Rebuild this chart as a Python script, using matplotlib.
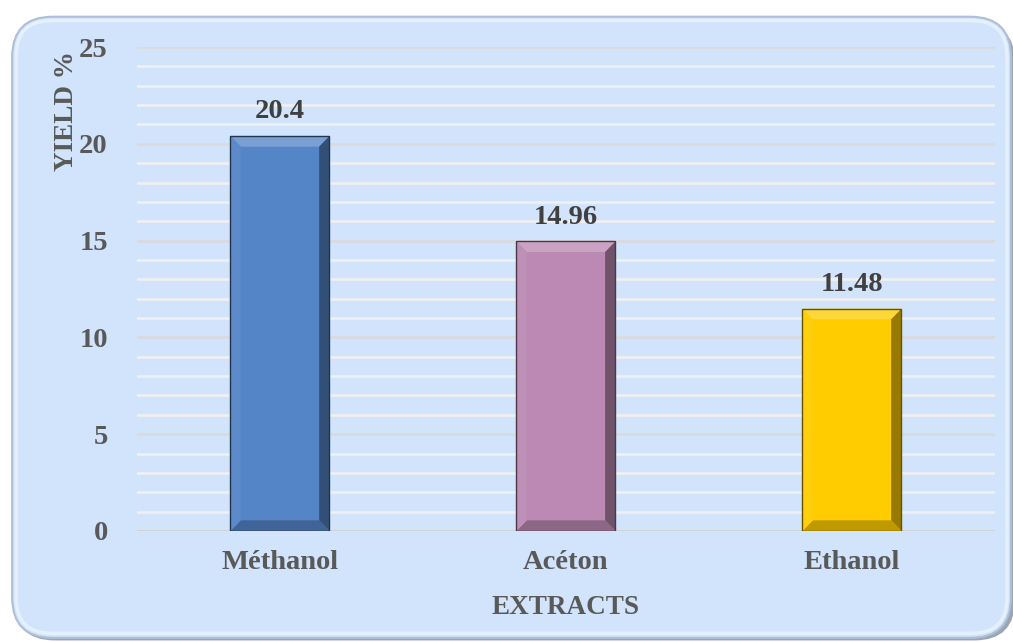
import matplotlib
matplotlib.use('Agg')
import matplotlib.pyplot as plt
from matplotlib.patches import FancyBboxPatch, Polygon
from matplotlib.colors import to_rgb
import numpy as np

extracts = ['Méthanol', 'Acéton', 'Ethanol']
yields = [20.4, 14.96, 11.48]
labels = ['20.4', '14.96', '11.48']
bar_colors = ['#5485c6', '#bb89b3', '#ffcc00']


def shade(color, f):
    r, g, b = to_rgb(color)
    if f >= 0:
        return (r + (1 - r) * f, g + (1 - g) * f, b + (1 - b) * f)
    return (r * (1 + f), g * (1 + f), b * (1 + f))


def bevel_bar(ax, x, h, w, color):
    # flat face plus four bevelled edges
    bx, by = 0.036, 0.55
    x0, x1 = x - w / 2, x + w / 2
    ax.add_patch(Polygon([(x0, 0), (x1, 0), (x1, h), (x0, h)], closed=True,
                         facecolor=color, edgecolor='none', zorder=3))
    sides = [
        ([(x0, h), (x1, h), (x1 - bx, h - by), (x0 + bx, h - by)], shade(color, 0.22)),
        ([(x1, h), (x1, 0), (x1 - bx, by), (x1 - bx, h - by)], shade(color, -0.4)),
        ([(x0, 0), (x1, 0), (x1 - bx, by), (x0 + bx, by)], shade(color, -0.25)),
        ([(x0, 0), (x0, h), (x0 + bx, h - by), (x0 + bx, by)], shade(color, 0.05)),
    ]
    for pts, c in sides:
        ax.add_patch(Polygon(pts, closed=True, facecolor=c, edgecolor='none', zorder=4))
    ax.add_patch(Polygon([(x0, 0), (x1, 0), (x1, h), (x0, h)], closed=True,
                         facecolor='none', edgecolor=shade(color, -0.6), lw=1.0, zorder=5))


plt.rcParams['font.family'] = 'Liberation Serif'
plt.rcParams['font.weight'] = 'bold'

fig = plt.figure(figsize=(10.13, 6.43), dpi=100)
fig.patch.set_facecolor('white')

# rounded chart panel with a soft shadow and a light top rim
shadow = FancyBboxPatch((0.014, 0.004), 0.988, 0.962, boxstyle='round,pad=0,rounding_size=0.04',
                        transform=fig.transFigure, facecolor='#9aa6b4', edgecolor='none',
                        mutation_aspect=1013 / 643, zorder=-3)
panel = FancyBboxPatch((0.012, 0.008), 0.986, 0.966, boxstyle='round,pad=0,rounding_size=0.04',
                       transform=fig.transFigure, facecolor='#d1e4fb', edgecolor='#aebfd6',
                       lw=1.5, mutation_aspect=1013 / 643, zorder=-2)
rim = FancyBboxPatch((0.016, 0.015), 0.978, 0.953, boxstyle='round,pad=0,rounding_size=0.035',
                     transform=fig.transFigure, facecolor='none', edgecolor='#e6f0fd',
                     lw=2.5, mutation_aspect=1013 / 643, zorder=-1)
fig.patches.extend([shadow, panel, rim])

ax = fig.add_axes([0.1352, 0.1742, 0.8470, 0.7527])
ax.set_facecolor('none')
ax.set_zorder(1)

x = np.arange(len(extracts))
width = 0.346
for xi, h, c, lab in zip(x, yields, bar_colors, labels):
    bevel_bar(ax, xi, h, width, c)
    ax.text(xi, h + 0.6, lab, ha='center', va='bottom',
            fontsize=20.5, fontweight='bold', color='#404040', zorder=6)

ax.set_xlim(-0.5, 2.5)
ax.set_ylim(0, 25)
ax.set_yticks(np.arange(0, 26, 5))
ax.set_yticks(np.arange(0, 26, 1), minor=True)
ax.grid(axis='y', which='minor', color='#eef0f3', lw=2.0, zorder=1)
ax.grid(axis='y', which='major', color='#d9dadc', lw=2.0, zorder=1)
ax.set_axisbelow(True)
ax.set_xticks(x)
ax.set_xticklabels(extracts)
ax.tick_params(axis='both', which='both', length=0, labelsize=20.5, colors='#595959')
ax.tick_params(axis='y', pad=21)
ax.tick_params(axis='x', pad=14)
for s in ax.spines.values():
    s.set_visible(False)
ax.axhline(0, color='#d0d2d6', lw=2, zorder=1)

ax.set_xlabel('EXTRACTS', fontsize=19.5, fontweight='bold', color='#595959', labelpad=14)
ax.set_ylabel('YIELD %', fontsize=19.5, fontweight='bold', color='#595959')
ax.yaxis.set_label_coords(-0.067, 0.868)

plt.savefig('out.png', dpi=100)
plt.close()
